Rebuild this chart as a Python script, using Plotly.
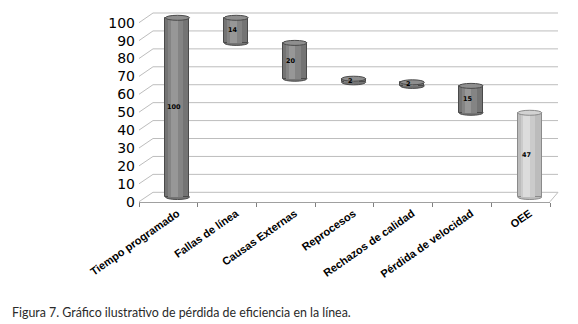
import plotly.graph_objects as go

categories = ["Tiempo programado", "Fallas de línea", "Causas Externas", "Reprocesos",
              "Rechazos de calidad", "Pérdida de velocidad", "OEE"]
total_time = 100
losses = [14, 20, 2, 2, 15]
oee = 47
y_ticks = [0, 10, 20, 30, 40, 50, 60, 70, 80, 90, 100]
caption = "Figura 7. Gráfico ilustrativo de pérdida de eficiencia en la línea."

# waterfall geometry derived from the data
heights = [total_time] + losses + [oee]
bases = [0]
level = total_time
for v in losses:
    level -= v
    bases.append(level)
bases.append(0)
tops = [b + h for b, h in zip(bases, heights)]
n = len(categories)
idx = list(range(n))

# plot-area pixel frame
L, R, T, B = 139, 550, 12, 202
PW, PH = R - L, B - T
def px_x(p): return (p - L) / PW
def px_y(p): return (B - p) / PH

SHIFT = 0.155   # depth offset of bars (category units)
BW = 0.41       # bar width

dark = dict(edge="#4a4a4a", c1="#747474", c2="#848484", c3="#979797", top="#8e8e8e")
light = dict(edge="#8a8a8a", c1="#bcbcbc", c2="#cbcbcb", c3="#dcdcdc", top="#d2d2d2")
pal = [dark] * (n - 1) + [light]

fig = go.Figure()
xc = [i + SHIFT for i in idx]
fig.add_trace(go.Bar(x=xc, y=heights, base=bases, width=BW,
                     marker=dict(color=[p["c1"] for p in pal],
                                 line=dict(color=[p["edge"] for p in pal], width=1)),
                     hoverinfo="skip", showlegend=False))
fig.add_trace(go.Bar(x=[x - 0.03 for x in xc], y=heights, base=bases, width=BW * 0.62,
                     marker=dict(color=[p["c2"] for p in pal], line=dict(width=0)),
                     hoverinfo="skip", showlegend=False))
fig.add_trace(go.Bar(x=[x - 0.05 for x in xc], y=heights, base=bases, width=BW * 0.28,
                     marker=dict(color=[p["c3"] for p in pal], line=dict(width=0)),
                     hoverinfo="skip", showlegend=False))

shapes = []
for v in y_ticks:
    fy = 201.7 - 1.79 * v
    by = 192.3 - 1.793 * v
    shapes.append(dict(type="line", xref="paper", yref="paper", layer="below",
                       x0=px_x(153), x1=px_x(558), y0=px_y(by), y1=px_y(by),
                       line=dict(color="#bdbdbd", width=1)))
    shapes.append(dict(type="line", xref="paper", yref="paper", layer="below",
                       x0=px_x(139), x1=px_x(153), y0=px_y(fy), y1=px_y(by),
                       line=dict(color="#bdbdbd", width=1)))
shapes.append(dict(type="line", xref="paper", yref="paper", layer="below",
                   x0=px_x(550), x1=px_x(558), y0=px_y(201.7), y1=px_y(192.3),
                   line=dict(color="#bdbdbd", width=1)))
EH = 1.4
for i, b, t, p in zip(idx, bases, tops, pal):
    shapes.append(dict(type="circle", xref="x", yref="y", layer="below",
                       x0=i + SHIFT - BW / 2, x1=i + SHIFT + BW / 2, y0=b - EH, y1=b + EH,
                       fillcolor=p["c1"], line=dict(color=p["edge"], width=1)))
    shapes.append(dict(type="circle", xref="x", yref="y", layer="above",
                       x0=i + SHIFT - BW / 2, x1=i + SHIFT + BW / 2, y0=t - EH, y1=t + EH,
                       fillcolor=p["top"], line=dict(color=p["edge"], width=1)))

annotations = [dict(text=str(h), x=i + SHIFT - 0.06, y=b + h / 2, xref="x", yref="y",
                    showarrow=False, xanchor="center", yanchor="middle",
                    font=dict(family="DejaVu Sans", size=6.5, color="#000000", weight="bold"))
               for i, b, h in zip(idx, bases, heights)]
annotations.append(dict(text=caption, xref="paper", yref="paper", x=px_x(10), y=px_y(312),
                        xanchor="left", yanchor="middle", showarrow=False,
                        font=dict(family="Lato", size=12.4, color="#2a2a2a")))

fig.update_layout(
    width=578, height=324,
    margin=dict(l=L, r=578 - R, t=T, b=324 - B),
    paper_bgcolor="white", plot_bgcolor="white",
    barmode="overlay", bargap=0,
    shapes=shapes, annotations=annotations,
    xaxis=dict(range=[-0.5, n - 0.5], tickvals=[i + SHIFT for i in idx], ticktext=categories,
               automargin=False, tickangle=-35, ticks="", showgrid=False, zeroline=False,
               showline=True, linecolor="#a0a0a0", linewidth=1,
               tickfont=dict(family="Liberation Sans", size=11, color="#000000", weight="bold"),
               minor=dict(tickvals=[i - 0.5 for i in range(n + 1)], ticks="outside",
                          ticklen=4, tickcolor="#808080", showgrid=False)),
    yaxis=dict(range=[(197 - B) / 1.792, (197 - T) / 1.792], showgrid=False, automargin=False,
               zeroline=False, showticklabels=False, showline=False),
    yaxis3=dict(overlaying="y", side="left", range=[(201.7 - B) / 1.79, (201.7 - T) / 1.79],
                tickvals=y_ticks, showgrid=False, zeroline=False, showline=False, automargin=False,
                ticks="", ticklabelstandoff=3,
                tickfont=dict(family="DejaVu Sans", size=14, color="#000000")),
)
fig.add_trace(go.Scatter(x=[None], y=[None], yaxis="y3", showlegend=False, hoverinfo="skip"))

fig.write_html("out.html", config={"displayModeBar": False},
               post_script="document.body.style.margin='0';")
